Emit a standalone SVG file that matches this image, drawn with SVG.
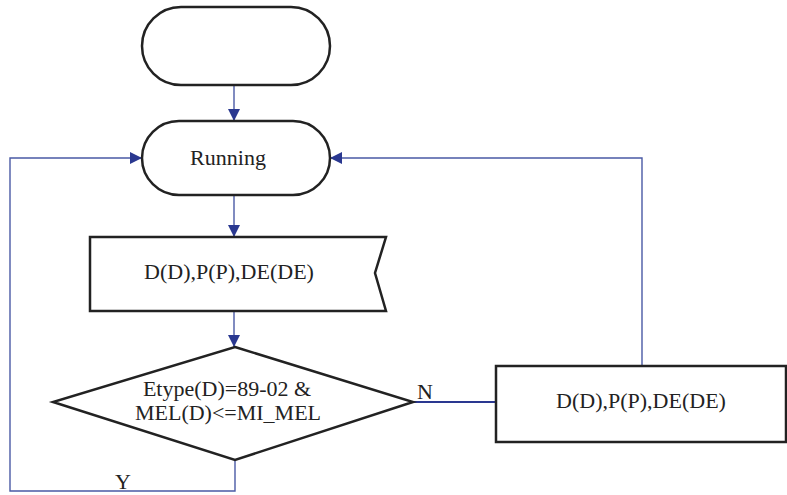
<svg xmlns="http://www.w3.org/2000/svg" width="787" height="495" viewBox="0 0 787 495">
<defs>
<marker id="ah" markerUnits="userSpaceOnUse" markerWidth="14" markerHeight="14" refX="12" refY="6" orient="auto">
<path d="M0,0 L12,6 L0,12 Z" fill="#2a3890"/>
</marker>
</defs>
<style>
.node{fill:#fff;stroke:#222;stroke-width:2.5;stroke-linejoin:miter}
.conn{fill:none;stroke:#4a5aa5;stroke-width:1.4}
.txt{font-size:22px;fill:#222;text-anchor:middle}
</style>
<rect width="787" height="495" fill="#fff"/>
<g id="connectors">
<path class="conn" d="M234,85 V121" marker-end="url(#ah)"/>
<path class="conn" d="M234,195 V237" marker-end="url(#ah)"/>
<path class="conn" d="M234,311 V347" marker-end="url(#ah)"/>
<path class="conn" d="M235,460 V491 H10 V158 H142" marker-end="url(#ah)"/>
<path class="conn" d="M413,402 H496" style="stroke:#2a3890;stroke-width:2.2"/>
<path class="conn" d="M642,366 V158 H330" marker-end="url(#ah)"/>
<text class="txt" font-family="Liberation Serif, Times New Roman, serif" x="123" y="489">Y</text>
<text class="txt" font-family="Liberation Serif, Times New Roman, serif" x="425" y="399">N</text>
</g>
<g id="start">
<rect class="node" x="142" y="7" width="188" height="78" rx="39" ry="39"/>
</g>
<g id="running">
<rect class="node" x="142" y="121" width="188" height="74" rx="37" ry="37"/>
<text class="txt" font-family="Liberation Serif, Times New Roman, serif" x="228" y="165" font-size="21">Running</text>
</g>
<g id="input">
<path class="node" d="M90,237 L386,237 L375,273 L386,311 L90,311 Z"/>
<text class="txt" font-family="Liberation Serif, Times New Roman, serif" x="229" y="279">D(D),P(P),DE(DE)</text>
</g>
<g id="decision">
<path class="node" d="M235,347 L413,402 L235,460 L53,402 Z"/>
<text class="txt" font-family="Liberation Serif, Times New Roman, serif" x="227" y="396" font-size="21">Etype(D)=89-02 &amp;</text>
<text class="txt" font-family="Liberation Serif, Times New Roman, serif" x="228" y="420" font-size="21">MEL(D)&lt;=MI_MEL</text>
</g>
<g id="process">
<rect class="node" x="496" y="366" width="290" height="76"/>
<text class="txt" font-family="Liberation Serif, Times New Roman, serif" x="641" y="408">D(D),P(P),DE(DE)</text>
</g>
</svg>
